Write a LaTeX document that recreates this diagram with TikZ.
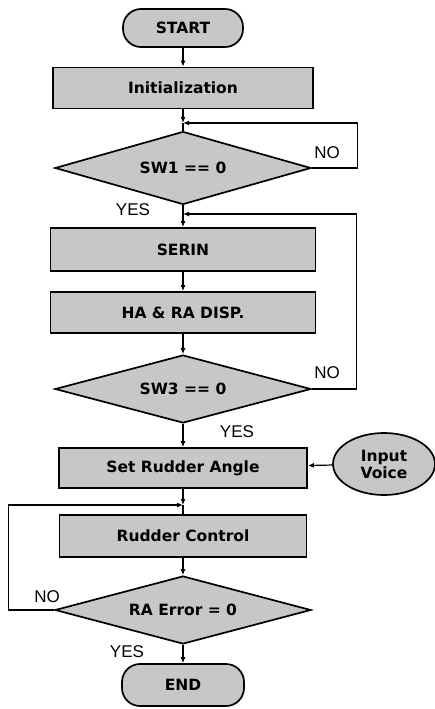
\documentclass[tikz,border=0pt]{standalone}
\usepackage{fontspec}
\setmainfont{Liberation Sans}
\newfontfamily\boxfont{DejaVu Sans}
\usetikzlibrary{shapes.geometric,arrows.meta}

\begin{document}
\begin{tikzpicture}[x=1pt,y=-1pt,
  stepbox/.style={draw,line width=1.7pt,fill=black!22,inner sep=0pt,minimum height=41pt,font=\boxfont\bfseries\fontsize{15.5}{18}\selectfont},
  termbox/.style={stepbox,rounded corners=18pt},
  test/.style={stepbox,diamond,aspect=3.6,minimum width=256pt,minimum height=70pt},
  voicebox/.style={stepbox,ellipse,minimum width=102pt,minimum height=62pt,align=center,font=\boxfont\bfseries\fontsize{15.5}{17}\selectfont},
  yesno/.style={font=\fontsize{17}{20}\selectfont},
  arr/.style={line width=1.2pt,-{Latex[length=6pt,width=5pt]}},
  line/.style={line width=1.2pt}]
\useasboundingbox (0,0) rectangle (435,709);

\node[termbox,minimum width=120pt,minimum height=38pt] (start) at(183,28){START};
\node[stepbox,minimum width=260pt] (init) at(183,88){Initialization};
\coordinate (j1) at(183,123);
\node[test,minimum height=73pt] (sw1) at(183,168){SW1 == 0};
\coordinate (j2) at(183,214);
\node[stepbox,minimum width=265pt,minimum height=43pt] (serin) at(183,249.5){SERIN};
\node[stepbox,minimum width=265pt] (disp) at(183,312.5){HA \& RA DISP.};
\node[test,minimum height=68pt] (sw3) at(183,389){SW3 == 0};
\node[stepbox,minimum width=248pt,minimum height=40pt] (setra) at(183,468){Set Rudder Angle};
\node[voicebox] (voice) at(384,464){Input\\Voice};
\coordinate (j3) at(183,505);
\node[stepbox,minimum width=247pt,minimum height=42pt] (rudder) at(183,536){Rudder Control};
\node[test,minimum height=68pt] (raerr) at(183,610){RA Error = 0};
\node[termbox,minimum width=122pt,minimum height=42pt] (stop) at(183,685){END};

% labels
\node[yesno] at(327,153){NO};
\node[yesno] at(133,210){YES};
\node[yesno] at(327,373){NO};
\node[yesno] at(237,432){YES};
\node[yesno] at(47,597){NO};
\node[yesno] at(127,652){YES};

\draw[arr] (start) -- (init);
\draw[arr] (init) -- (j1);
\draw[line] (j1) -- (sw1);
\draw[arr] (sw1.east) -- ++(46,0) |- (j1);
\draw[arr] (sw1) -- (serin);
\draw[arr] (serin) -- (disp);
\draw[arr] (disp) -- (sw3);
\draw[arr] (sw3.east) -- ++(45,0) |- (j2);
\draw[arr] (sw3) -- (setra);
\draw[arr] (voice) -- (setra);
\draw[arr] (setra) -- (j3);
\draw[line] (j3) -- (rudder);
\draw[arr] (raerr.west) -- ++(-46,0) |- (j3);
\draw[arr] (rudder) -- (raerr);
\draw[arr] (raerr) -- (stop);
\end{tikzpicture}
\end{document}
